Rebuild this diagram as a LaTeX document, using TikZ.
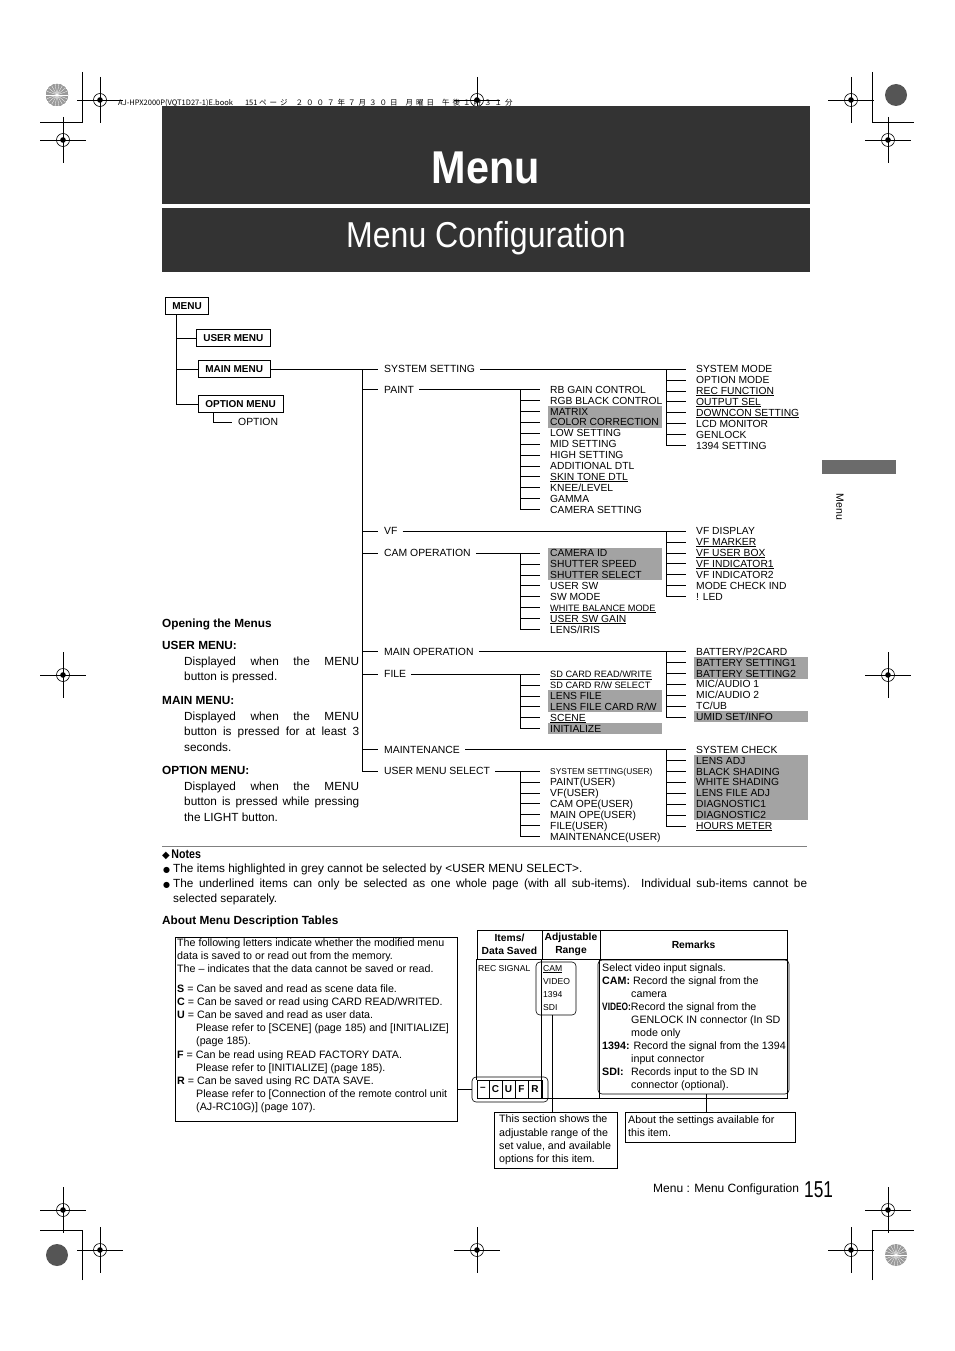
\documentclass[tikz,border=0pt]{standalone}
\usepackage{fontspec}
\usepackage{graphicx}
\setmainfont{Liberation Sans}
\newfontfamily\symfont{DejaVu Sans}
\newfontfamily\jpfont{Noto Sans CJK JP}
\newfontfamily\jpwide[LetterSpace=40]{Noto Sans CJK JP}
\usetikzlibrary{calc,positioning}

\definecolor{bandgray}{HTML}{333333}
\definecolor{hilite}{HTML}{A3A3A3}
\definecolor{tabgray}{HTML}{6B6B6B}
\definecolor{discdark}{HTML}{555555}
\definecolor{disclight}{HTML}{9A9A9A}

\newcommand{\fs}[2]{\fontsize{#1}{#2}\selectfont}
% close underline, so a grey row below does not hide it
\newcommand{\ul}[1]{\setbox0\hbox{#1}\rlap{\rule[-1.3pt]{\wd0}{0.5pt}}\box0}

% registration mark
\newcommand{\regmark}[2]{%
  \draw[markline] (#1-23,#2) -- (#1+23,#2) (#1,#2-23) -- (#1,#2+23);
  \draw[markline] (#1,#2) circle (6.5);
  \fill (#1,#2) circle (2.8);
}

% sub-menu column: prefix, west x, first y, last index, colour/text items
\newcommand{\branch}[5]{%
  \foreach \col/\txt [count=\i from 0] in {#5}
    \node[sub, fill=\col] (#1\i) at (#2,#3+\i*10.9) {\makebox[110pt][l]{\txt}};
  \draw[tree] ([xshift=-28pt]#10.west) -- ([xshift=-28pt]#1#4.west);
  \foreach \i in {0,...,#4}
    \draw[tree] ([xshift=-28pt]#1\i.west) -- ([xshift=-8pt]#1\i.west);
}

\begin{document}
\begin{tikzpicture}[
  x=1pt, y=-1pt,
  markline/.style={line width=0.6pt},
  tree/.style={line width=0.6pt},
  tbl/.style={line width=0.6pt},
  menubox/.style={draw,line width=0.6pt,anchor=west,inner xsep=7pt,inner ysep=0pt,minimum height=17pt,
    font=\bfseries\fs{10}{11},text height=7.2pt,text depth=0pt},
  lvl/.style={anchor=west,inner sep=0pt,font=\fs{10.4}{11},text height=7.5pt,text depth=0pt},
  sub/.style={anchor=west,inner xsep=2pt,inner ysep=0pt,minimum height=10.9pt,
    font=\fs{10.3}{11},text height=7.5pt,text depth=0pt},
  head/.style={anchor=base west,inner sep=0pt,font=\bfseries\fs{11.8}{14}},
  para/.style={anchor=base west,inner sep=0pt,font=\fs{11.8}{15.7},align=left},
  note/.style={anchor=base west,inner sep=0pt,font=\fs{11.8}{15.8},align=left},
  small/.style={anchor=base west,inner sep=0pt,font=\fs{10.7}{13.2},align=left},
  hcell/.style={draw,line width=0.6pt,minimum height=29pt,inner sep=0pt,align=center,font=\bfseries\fs{10.3}{12.8}},
  cell/.style={draw,line width=0.6pt,minimum height=18pt,inner sep=0pt,font=\bfseries\fs{10}{11}},
  rng/.style={anchor=base west,inner sep=0pt,font=\fs{8.6}{13.3},align=left},
]
\useasboundingbox (0,0) rectangle (954,1351);

% printer's marks
\foreach \mx/\my in {100/100,477/100,851/100,63/140,888/140,63/675,888/675,
                     63/1210,888/1210,100/1250,477/1250,851/1250}
  \regmark{\mx}{\my}
\fill[disclight] (57,95) circle (11);
\foreach \a in {0,20,...,340} \draw[white,line width=0.3pt] (57,95) -- ++(\a:11);
\fill[discdark] (896,95) circle (11);
\fill[discdark] (57,1255) circle (11);
\fill[disclight] (896,1255) circle (11);
\foreach \a in {0,20,...,340} \draw[white,line width=0.3pt] (896,1255) -- ++(\a:11);
\draw[markline] (82,72) -- (82,122) -- (40,122);
\draw[markline] (872,72) -- (872,122) -- (914,122);
\draw[markline] (82,1280) -- (82,1230) -- (40,1230);
\draw[markline] (872,1280) -- (872,1230) -- (914,1230);

\node[anchor=base west,inner sep=0pt,font=\jpfont\fs{7.5}{8}] (runhead) at (118,106)
  {AJ-HPX2000P(VQT1D27-1)E.book\hspace{12pt}151 {\jpwide ページ\hspace{8pt}２００７年７月３０日\hspace{8pt}月曜日\hspace{8pt}午後１時３１分}};

% title bands
\node[fill=bandgray,minimum width=648pt,minimum height=98pt,inner sep=0pt,anchor=north west] (band1) at (162,106) {};
\node[fill=bandgray,minimum width=648pt,minimum height=64pt,inner sep=0pt,anchor=north west] (band2) at (162,208) {};
\node[anchor=base,text=white,inner sep=0pt] (title) at (486,183) {\scalebox{0.9}[1]{\bfseries\fs{46}{50}Menu}};
\node[anchor=base,text=white,inner sep=0pt] (subtitle) at (486,247) {\scalebox{0.89}[1]{\fs{36}{40}Menu Configuration}};

% side tab
\node[fill=tabgray,minimum width=74pt,minimum height=14pt,inner sep=0pt,anchor=north west] (tab) at (822,460) {};
\node[rotate=-90,inner sep=0pt,font=\fs{10.5}{12}] (tabtxt) at (840,507) {Menu};

% menu tree
\node[menubox] (menu) at (165,306) {MENU};
\node[menubox] (usermenu) at (196,338) {USER MENU};
\node[menubox] (mainmenu) at (198,369) {MAIN MENU};
\node[menubox] (optmenu) at (198,404) {OPTION MENU};
\node[lvl] (optitem) at (238,422) {OPTION};
\coordinate (mspine) at (176,306);
\draw[tree] (menu.south -| mspine) -- (mspine |- optmenu.west);
\foreach \n in {usermenu,mainmenu,optmenu}
  \draw[tree] (mspine |- \n.west) -- (\n.west);
\draw[tree] ([xshift=15pt]optmenu.south west) |- ([xshift=-6pt]optitem.west);

\node[lvl] (sysset) at (384,369) {SYSTEM SETTING};
\node[lvl] (paint) at (384,389.5) {PAINT};
\node[lvl] (vf) at (384,531) {VF};
\node[lvl] (camop) at (384,553) {CAM OPERATION};
\node[lvl] (mainop) at (384,651.5) {MAIN OPERATION};
\node[lvl] (file) at (384,674) {FILE};
\node[lvl] (maint) at (384,749.5) {MAINTENANCE};
\node[lvl] (usel) at (384,771) {USER MENU SELECT};
\coordinate (spine) at (362,369);
\draw[tree] (mainmenu.east) -- (spine);
\draw[tree] (spine) -- (spine |- usel.west);
\foreach \n in {sysset,paint,vf,camop,mainop,file,maint,usel}
  \draw[tree] (spine |- \n.west) -- ([xshift=-6pt]\n.west);

\branch{ss}{694}{369}{7}{none/SYSTEM MODE, none/OPTION MODE, none/\ul{REC FUNCTION},
  none/\ul{OUTPUT SEL}, none/\ul{DOWNCON SETTING}, none/LCD MONITOR, none/GENLOCK, none/1394 SETTING}
\branch{pt}{548}{389.5}{11}{none/RB GAIN CONTROL, none/RGB BLACK CONTROL, hilite/MATRIX, hilite/COLOR CORRECTION,
  none/LOW SETTING, none/MID SETTING, none/HIGH SETTING, none/ADDITIONAL DTL, none/\ul{SKIN TONE DTL},
  none/{KNEE/LEVEL}, none/GAMMA, none/CAMERA SETTING}
\branch{vl}{694}{531}{6}{none/VF DISPLAY, none/\ul{VF MARKER}, none/\ul{VF USER BOX},
  none/\ul{VF INDICATOR1}, none/VF INDICATOR2, none/MODE CHECK IND, none/! LED}
\branch{co}{548}{553}{7}{hilite/CAMERA ID, hilite/SHUTTER SPEED, hilite/SHUTTER SELECT, none/USER SW, none/SW MODE,
  none/\ul{\fs{9.2}{10}WHITE BALANCE MODE}, none/\ul{USER SW GAIN}, none/{LENS/IRIS}}
\branch{mo}{694}{651.5}{6}{none/{BATTERY/P2CARD}, hilite/BATTERY SETTING1, hilite/BATTERY SETTING2,
  none/{MIC/AUDIO 1}, none/{MIC/AUDIO 2}, none/{TC/UB}, hilite/{UMID SET/INFO}}
\branch{fl}{548}{674}{5}{none/{\ul{\fs{9.2}{10}SD CARD READ/WRITE}}, none/{\fs{9.2}{10}SD CARD R/W SELECT},
  hilite/LENS FILE, hilite/{LENS FILE CARD R/W}, none/\ul{SCENE}, hilite/INITIALIZE}
\branch{mt}{694}{749.5}{7}{none/SYSTEM CHECK, hilite/LENS ADJ, hilite/BLACK SHADING, hilite/WHITE SHADING,
  hilite/LENS FILE ADJ, hilite/DIAGNOSTIC1, hilite/DIAGNOSTIC2, none/\ul{HOURS METER}}
\branch{us}{548}{771}{6}{none/{\fs{8.4}{9}SYSTEM SETTING(USER)}, none/PAINT(USER), none/VF(USER), none/CAM OPE(USER),
  none/MAIN OPE(USER), none/FILE(USER), none/MAINTENANCE(USER)}

\draw[tree] ([xshift=5pt]sysset.east) -- ([xshift=-8pt]ss0.west);
\draw[tree] ([xshift=5pt]paint.east) -- ([xshift=-8pt]pt0.west);
\draw[tree] ([xshift=5pt]vf.east) -- ([xshift=-8pt]vl0.west);
\draw[tree] ([xshift=5pt]camop.east) -- ([xshift=-8pt]co0.west);
\draw[tree] ([xshift=5pt]mainop.east) -- ([xshift=-8pt]mo0.west);
\draw[tree] ([xshift=5pt]file.east) -- ([xshift=-8pt]fl0.west);
\draw[tree] ([xshift=5pt]maint.east) -- ([xshift=-8pt]mt0.west);
\draw[tree] ([xshift=5pt]usel.east) -- ([xshift=-8pt]us0.west);

% opening the menus (multi-line nodes sit on their last baseline)
\node[head] (hopen) at (162,627) {Opening the Menus};
\node[head] (huser) at (162,649) {USER MENU:};
\node[para] (puser) at (184,680.7) {\makebox[175pt][s]{Displayed when the MENU}\\button is pressed.};
\node[head] (hmain) at (162,704) {MAIN MENU:};
\node[para] (pmain) at (184,751.4) {\makebox[175pt][s]{Displayed when the MENU}\\
  \makebox[175pt][s]{button is pressed for at least 3}\\seconds.};
\node[head] (hopt) at (162,774) {OPTION MENU:};
\node[para] (popt) at (184,821.4) {\makebox[175pt][s]{Displayed when the MENU}\\
  \makebox[175pt][s]{button is pressed while pressing}\\the LIGHT button.};

% notes
\draw[gray,line width=0.6pt] (162,846) -- (807,846);
\node[anchor=base west,inner sep=0pt] (notes) at (162,858)
  {{\symfont\fs{10}{11}◆}\hspace{1.5pt}\scalebox{0.85}[1]{\bfseries\fs{12.5}{13}Notes}};
\node[note] (note1) at (163,872) {\makebox[10pt][l]{\symfont\fs{8}{9}●}The items highlighted in grey cannot be selected by <USER MENU SELECT>.};
\node[note] (note2) at (163,902.8) {\makebox[10pt][l]{\symfont\fs{8}{9}●}\makebox[634pt][s]{The underlined items can only be selected as one whole page (with all sub-items). Individual sub-items cannot be}\\
  \hspace*{10pt}selected separately.};
\node[head] (about) at (162,924) {About Menu Description Tables};

% legend box
\node[draw,line width=0.6pt,anchor=north west,minimum width=282pt,minimum height=184pt,inner sep=0pt] (legend) at (175,937) {};
\node[small] (legtxt) at (177,1110.9) {The following letters indicate whether the modified menu\\
  data is saved to or read out from the memory.\\
  The – indicates that the data cannot be saved or read.\\[6.5pt]
  \textbf{S} = Can be saved and read as scene data file.\\
  \textbf{C} = Can be saved or read using CARD READ/WRITED.\\
  \textbf{U} = Can be saved and read as user data.\\
  \hspace*{19pt}Please refer to [SCENE] (page 185) and [INITIALIZE]\\
  \hspace*{19pt}(page 185).\\
  \textbf{F} = Can be read using READ FACTORY DATA.\\
  \hspace*{19pt}Please refer to [INITIALIZE] (page 185).\\
  \textbf{R} = Can be saved using RC DATA SAVE.\\
  \hspace*{19pt}Please refer to [Connection of the remote control unit\\
  \hspace*{19pt}(AJ-RC10G)] (page 107).};

% sample table
\node[hcell,minimum width=65pt] (hitems) at (509.5,944.5) {Items/\\Data Saved};
\node[hcell,minimum width=58pt] (hrange) at (571,944.5) {Adjustable\\Range};
\node[hcell,minimum width=187pt] (hrem) at (693.5,944.5) {Remarks};
\foreach \l/\cx/\w [count=\i] in {–/483/12, C/495.5/13, U/508.5/13, F/521.5/13, R/535/14}
  \node[cell,minimum width=\w*1pt] (cufr\i) at (\cx,1089) {\l};
\draw[tbl] (hitems.south west) -- (hitems.south west |- cufr1.north);
\draw[tbl] (hrange.south west) -- ++(0,139) -| (hrem.south east);
\draw[tbl] (hrem.south west) -- ++(0,139);
\node[rng] (recsig) at (478,971) {REC SIGNAL};
\node[rng] (rvals) at (543,1010.9) {\ul{CAM}\\VIDEO\\1394\\SDI};
\node[small,font=\fs{10.7}{13.1}] (rmktxt) at (602,1088.9) {Select video input signals.\\
  \textbf{CAM:} Record the signal from the\\
  \hspace*{29pt}camera\\
  \scalebox{0.78}[1]{\textbf{VIDEO:}}Record the signal from the\\
  \hspace*{29pt}GENLOCK IN connector (In SD\\
  \hspace*{29pt}mode only\\
  \textbf{1394:} Record the signal from the 1394\\
  \hspace*{29pt}input connector\\
  \makebox[29pt][l]{\textbf{SDI:}}Records input to the SD IN\\
  \hspace*{29pt}connector (optional).};
\node[draw,line width=0.6pt,rounded corners=4pt,minimum width=40pt,minimum height=53pt,inner sep=0pt] (rangebox) at (556,988.5) {};
\node[draw,line width=0.6pt,rounded corners=4pt,minimum width=191pt,minimum height=134pt,inner sep=0pt] (rembox) at (693.5,1027) {};
\node[draw,line width=0.6pt,rounded corners=4pt,minimum width=76pt,minimum height=25pt,inner sep=0pt] (cufrbox) at (510,1089.5) {};
\draw[tbl] (legend.east |- cufrbox.west) -- (cufrbox.west);

% callouts
\node[draw,line width=0.6pt,anchor=north west,minimum width=123pt,minimum height=56pt,inner sep=0pt] (call1) at (494,1112) {};
\node[small] (call1txt) at (499,1162.4) {This section shows the\\adjustable range of the\\set value, and available\\options for this item.};
\node[draw,line width=0.6pt,anchor=north west,minimum width=170pt,minimum height=30pt,inner sep=0pt] (call2) at (625,1112) {};
\node[small] (call2txt) at (628,1136.2) {About the settings available for\\this item.};
\draw[tbl] ([xshift=-4pt]rangebox.south) -- ([xshift=-4pt]rangebox.south |- call1.north);
\draw[tbl] ([xshift=12.5pt]rembox.south) -- ([xshift=12.5pt]rembox.south |- call2.north);

% footer
\node[anchor=base west,inner sep=0pt,font=\fs{12}{14}] (foot) at (653,1192) {Menu : Menu Configuration};
\node[anchor=base west,inner sep=0pt] (pageno) at (804,1197) {\scalebox{0.75}[1]{\fs{23}{24}151}};
\end{tikzpicture}
\end{document}
